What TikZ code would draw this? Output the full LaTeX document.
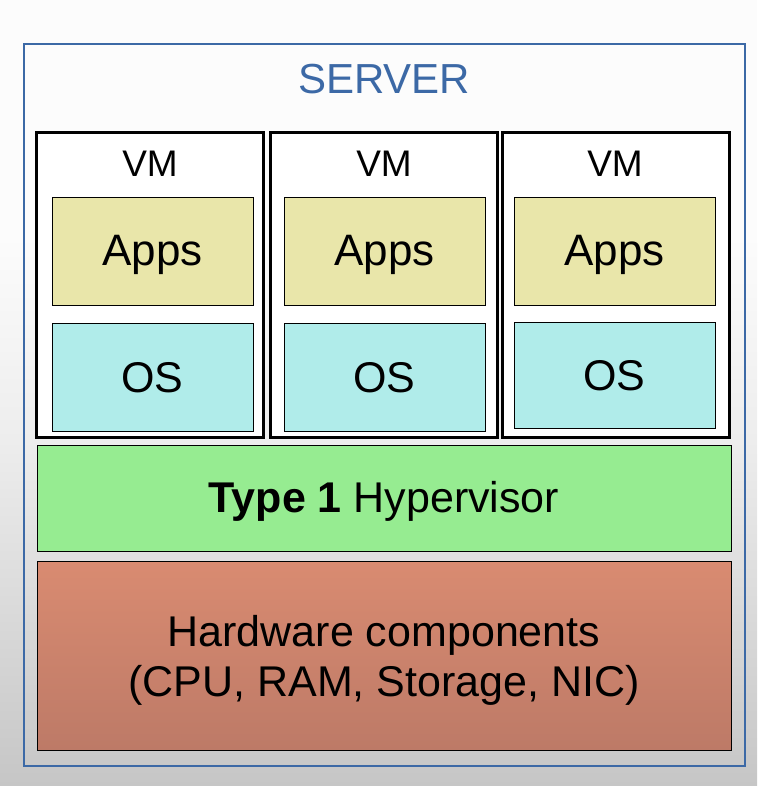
\documentclass[tikz,border=0pt]{standalone}
\usepackage{fontspec}
\setmainfont{Liberation Sans}
\definecolor{srvblue}{HTML}{3C69A6}
\definecolor{appsfill}{HTML}{E9E6AA}
\definecolor{osfill}{HTML}{B0ECEA}
\definecolor{hypfill}{HTML}{96EC91}
\definecolor{hwtop}{HTML}{D98B71}
\definecolor{hwbot}{HTML}{BD7A67}
\definecolor{bgbot}{HTML}{C6C6C6}
\definecolor{bgmid}{HTML}{EDEDED}
\definecolor{bgtop}{HTML}{FCFCFC}
\pgfdeclareverticalshading{bgshade}{100bp}{color(0bp)=(bgbot); color(25bp)=(bgbot); color(47bp)=(bgmid); color(60bp)=(bgtop); color(100bp)=(bgtop)}
\begin{document}
\begin{tikzpicture}[x=1pt,y=-1pt,
  vmbox/.style={draw=black, line width=3pt, fill=white, minimum width=227pt, minimum height=304pt, inner sep=0pt},
  layer/.style={draw=black, line width=0.8pt, inner sep=0pt},
  bigtext/.style={font=\fontsize{43}{50}\selectfont, text=black, inner sep=0pt, align=center},
  vmlabel/.style={font=\fontsize{37}{40}\selectfont, inner sep=0pt}
]
\useasboundingbox (0,0) rectangle (757,786);
\shade[shading=bgshade] (0,0) rectangle (757,786);

% server
\node[draw=srvblue, line width=2.5pt, minimum width=721pt, minimum height=722pt, inner sep=0pt] (server) at (384.5,405) {};
\node[text=srvblue, font=\fontsize{42}{44}\selectfont, inner sep=0pt] (servertitle) at (384,79) {SERVER};

% VMs
\node[vmbox] (vm1) at (150,285) {};
\node[vmbox] (vm2) at (383.5,285) {};
\node[vmbox] (vm3) at (615.5,285) {};
\node[vmlabel] (vmt1) at (150,164) {VM};
\node[vmlabel] (vmt2) at (384,164) {VM};
\node[vmlabel] (vmt3) at (615,164) {VM};

% Apps
\node[layer, fill=appsfill, minimum width=201pt, minimum height=108pt] (apps1) at (152.5,251) {};
\node[layer, fill=appsfill, minimum width=201pt, minimum height=108pt] (apps2) at (384.5,251) {};
\node[layer, fill=appsfill, minimum width=201pt, minimum height=108pt] (apps3) at (614.5,251) {};
\node[bigtext, font=\fontsize{44}{50}\selectfont, yshift=-4pt] (appst1) at (apps1) {Apps};
\node[bigtext, font=\fontsize{44}{50}\selectfont, yshift=-4pt] (appst2) at (apps2) {Apps};
\node[bigtext, font=\fontsize{44}{50}\selectfont, yshift=-4pt] (appst3) at (apps3) {Apps};

% OS
\node[layer, fill=osfill, minimum width=201pt, minimum height=108pt] (os1) at (152.5,377) {};
\node[layer, fill=osfill, minimum width=201pt, minimum height=108pt] (os2) at (384.5,377) {};
\node[layer, fill=osfill, minimum width=201pt, minimum height=106pt] (os3) at (614.5,375) {};
\node[bigtext, yshift=-1pt] (ost1) at (os1) {OS};
\node[bigtext, yshift=-1pt] (ost2) at (os2) {OS};
\node[bigtext, yshift=-1pt] (ost3) at (os3) {OS};

% Hypervisor
\node[layer, fill=hypfill, minimum width=694pt, minimum height=106pt] (hyp) at (384,498) {};
\node[bigtext, yshift=-3pt] (hypt) at (hyp) {\textbf{Type 1} Hypervisor};

% Hardware
\node[layer, top color=hwtop, bottom color=hwbot, minimum width=694pt, minimum height=189pt] (hw) at (384,655.5) {};
\node[bigtext, yshift=-5pt] (hwt) at (hw) {Hardware components\\(CPU, RAM, Storage, NIC)};
\end{tikzpicture}
\end{document}
